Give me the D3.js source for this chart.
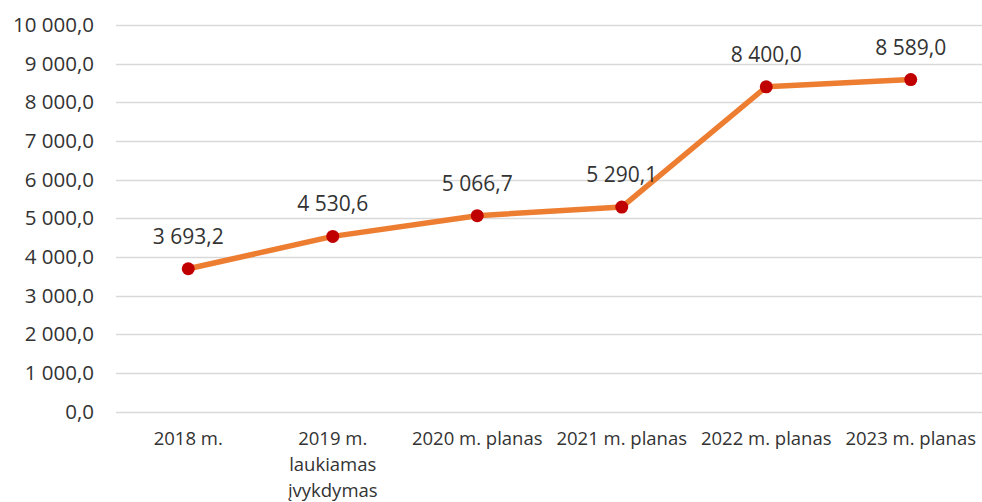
<!DOCTYPE html>
<html>
<head>
<meta charset="utf-8">
<script src="https://cdn.jsdelivr.net/npm/d3@7"></script>
<style>
html,body{margin:0;padding:0;background:#fff;}
svg{display:block;}
</style>
</head>
<body>
<svg id="chart" width="982" height="502"></svg>
<script>
const categories = [
  ["2018 m."],
  ["2019 m.", "laukiamas", "įvykdymas"],
  ["2020 m. planas"],
  ["2021 m. planas"],
  ["2022 m. planas"],
  ["2023 m. planas"]
];
const values = [3693.2, 4530.6, 5066.7, 5290.1, 8400.0, 8589.0];
const yTicks = [0, 1000, 2000, 3000, 4000, 5000, 6000, 7000, 8000, 9000, 10000];

const svg = d3.select("#chart");
const font = "'Open Sans', sans-serif";
const textColor = "#333333";

const x = d3.scaleBand().domain(d3.range(categories.length)).range([116, 983]);
const y = d3.scaleLinear().domain([0, 10000]).range([411.5, 25]);

const fmt = v => {
  const s = d3.format(",.1f")(v);
  return s.replace(/,/g, "\u00a0").replace(".", ",");
};

// gridlines
svg.append("g").selectAll("line").data(yTicks).join("line")
  .attr("x1", 116).attr("x2", 982)
  .attr("y1", d => Math.round(y(d)) + 0.5).attr("y2", d => Math.round(y(d)) + 0.5)
  .attr("stroke", "#d9d9d9").attr("stroke-width", 1.3);

// y tick labels
svg.append("g").selectAll("text").data(yTicks).join("text")
  .attr("x", 94).attr("y", d => y(d) + 7)
  .attr("text-anchor", "end")
  .attr("font-family", font).attr("font-size", 20.5)
  .attr("fill", textColor)
  .text(d => fmt(d));

// category labels
const cx = i => x(i) + x.bandwidth() / 2;
const catG = svg.append("g");
categories.forEach((lines, i) => {
  const t = catG.append("text")
    .attr("x", cx(i)).attr("y", 445)
    .attr("text-anchor", "middle")
    .attr("font-family", font).attr("font-size", 18.5)
    .attr("fill", textColor);
  lines.forEach((ln, j) => {
    t.append("tspan").attr("x", cx(i)).attr("y", 445 + j * 25.8).text(ln);
  });
});

// line
const line = d3.line().x((d, i) => cx(i)).y(d => y(d));
svg.append("path").datum(values)
  .attr("d", line)
  .attr("fill", "none")
  .attr("stroke", "#ED7D31")
  .attr("stroke-width", 5.5)
  .attr("stroke-linejoin", "round")
  .attr("stroke-linecap", "round");

// markers
svg.append("g").selectAll("circle").data(values).join("circle")
  .attr("cx", (d, i) => cx(i)).attr("cy", d => y(d))
  .attr("r", 6.5)
  .attr("fill", "#C00000");

// data labels
svg.append("g").selectAll("text").data(values).join("text")
  .attr("x", (d, i) => cx(i)).attr("y", d => y(d) - 25)
  .attr("text-anchor", "middle")
  .attr("font-family", font).attr("font-size", 21)
  .attr("fill", textColor)
  .text(d => fmt(d));
</script>
</body>
</html>
